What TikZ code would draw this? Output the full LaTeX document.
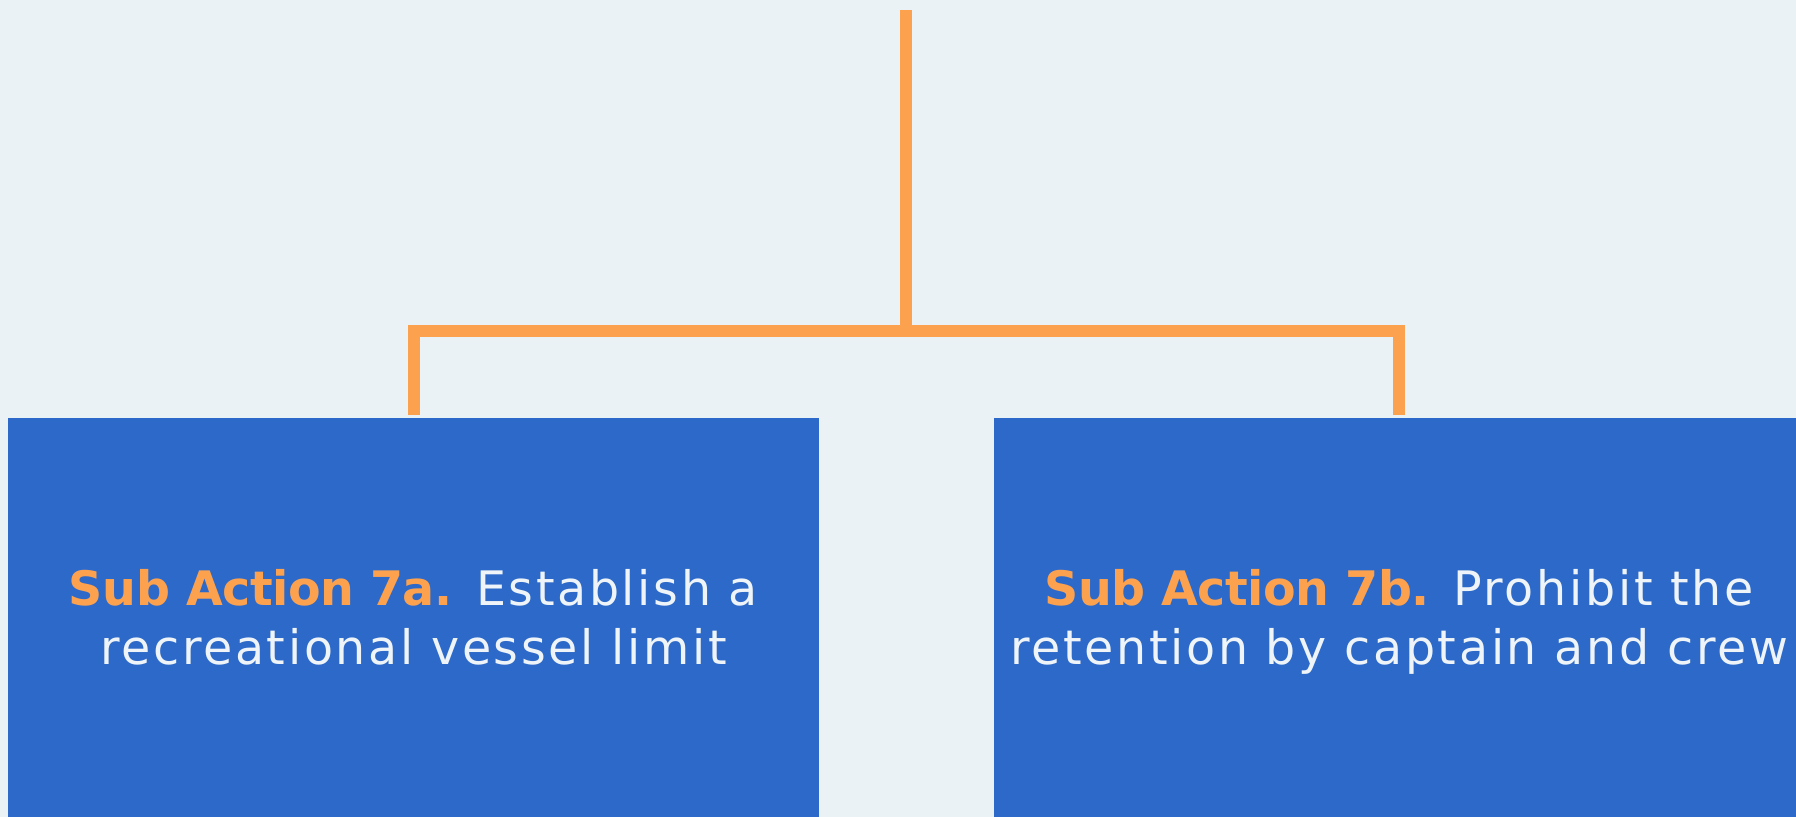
\documentclass[tikz,border=0pt]{standalone}
\usepackage{fontspec}
\setmainfont{DejaVu Sans}[LetterSpace=5.6, BoldFeatures={LetterSpace=-1}]
\usetikzlibrary{calc}
\definecolor{bg}{HTML}{EAF2F5}
\definecolor{boxblue}{HTML}{2D69C9}
\definecolor{lineorange}{HTML}{FCA24F}
\definecolor{txtwhite}{HTML}{EEF4F7}
\tikzset{
  box/.style={draw=none, fill=boxblue, minimum width=811*0.4pt, minimum height=420*0.4pt, anchor=north, inner sep=0pt},
  conn/.style={draw=lineorange, line width=12*0.4pt, line join=miter, line cap=butt},
  label/.style={align=center, text=txtwhite, font=\fontsize{19pt}{23.4pt}\selectfont, inner sep=0pt}
}
\newcommand{\hltext}[1]{\textcolor{lineorange}{\bfseries #1}}
\begin{document}
\begin{tikzpicture}[x=0.4pt,y=-0.4pt]
\fill[bg] (0,0) rectangle (1796,817);
\useasboundingbox (0,0) rectangle (1796,817);
\node[box] (boxA) at (413.5,418) {};
\node[box] (boxB) at (1399,418) {};
\coordinate (top) at (906,10);
\coordinate (hub) at (906,331);
\draw[conn] (top) -- (hub);
\draw[conn] ($(boxA.north)+(0,-3)$) |- (hub) -| ($(boxB.north)+(0,-3)$);
\node[label] (textA) at (413.5,623.5) {\strut\hltext{Sub Action 7a.} Establish a\\recreational vessel limit\strut};
\node[label] (textB) at (1399,623.5) {\strut\hltext{Sub Action 7b.} Prohibit the\\retention by captain and crew\strut};
\end{tikzpicture}
\end{document}
